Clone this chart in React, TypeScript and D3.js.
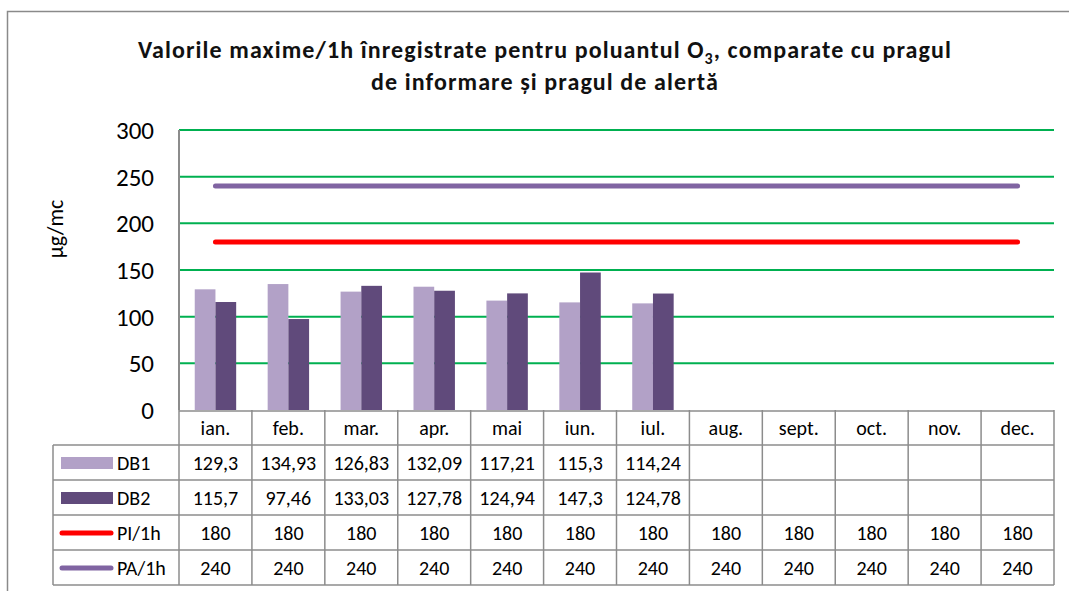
import React from 'react';
import * as d3 from 'd3';

const MONTHS = ['ian.', 'feb.', 'mar.', 'apr.', 'mai', 'iun.', 'iul.', 'aug.', 'sept.', 'oct.', 'nov.', 'dec.'];
const DB1 = [129.3, 134.93, 126.83, 132.09, 117.21, 115.3, 114.24, null, null, null, null, null];
const DB2 = [115.7, 97.46, 133.03, 127.78, 124.94, 147.3, 124.78, null, null, null, null, null];
const PI = [180, 180, 180, 180, 180, 180, 180, 180, 180, 180, 180, 180];
const PA = [240, 240, 240, 240, 240, 240, 240, 240, 240, 240, 240, 240];
const Y_TICKS = [0, 50, 100, 150, 200, 250, 300];

const FONT = 'Carlito, Lato, "Open Sans", sans-serif';
const GRID = '#00B050';
const BORDER = '#8c8c8c';

type Series = { name: string; values: (number | null)[]; kind: 'bar' | 'line'; color: string };

const SERIES: Series[] = [
  { name: 'DB1', values: DB1, kind: 'bar', color: '#B2A1C7' },
  { name: 'DB2', values: DB2, kind: 'bar', color: '#604A7B' },
  { name: 'PI/1h', values: PI, kind: 'line', color: '#FF0000' },
  { name: 'PA/1h', values: PA, kind: 'line', color: '#8064A2' },
];

const fmt = (v: number | null) => (v == null ? '' : String(v).replace('.', ','));

export default function App() {
  const width = 1069;
  const height = 591;
  const plot = { left: 179, right: 1054, top: 130, bottom: 410 };
  const rowH = 35;
  const legendLeft = 53;

  const x = d3.scaleBand<string>().domain(MONTHS).range([plot.left, plot.right]);
  const xInner = d3.scaleBand<string>()
    .domain(['DB1', 'DB2'])
    .range([0, x.bandwidth()])
    .paddingInner(0)
    .paddingOuter(0.76);
  const y = d3.scaleLinear().domain([0, 300]).range([plot.bottom, plot.top]);

  const line = d3.line<number>()
    .x((_, i) => (x(MONTHS[i]) as number) + x.bandwidth() / 2)
    .y(d => y(d));

  const tableBottom = plot.bottom + rowH * (SERIES.length + 1);

  return (
    <svg
      width={width}
      height={height}
      style={{ position: 'absolute', left: 0, top: 0, background: '#fff' }}
      fontFamily={FONT}
    >
      {/* outer frame */}
      <rect x={7.5} y={11.5} width={1100} height={700} fill="none" stroke="#8a8a8a" strokeWidth={1.5} />

      {/* title */}
      <g fontWeight="bold" fontSize={24} fill="#111" letterSpacing={1.1} textAnchor="middle">
        <text x={545} y={58}>
          Valorile maxime/1h înregistrate pentru poluantul O
          <tspan dy={6} fontSize={16}>3</tspan>
          <tspan dy={-6}>, comparate cu pragul</tspan>
        </text>
        <text x={545} y={90}>de informare și pragul de alertă</text>
      </g>

      {/* gridlines */}
      {Y_TICKS.filter(t => t > 0).map(t => (
        <line key={t} x1={plot.left} x2={plot.right} y1={y(t)} y2={y(t)} stroke={GRID} strokeWidth={2} />
      ))}

      {/* y tick labels */}
      {Y_TICKS.map(t => (
        <text key={t} x={154} y={y(t) + 9} textAnchor="end" fontSize={25} fill="#000">
          {t}
        </text>
      ))}

      {/* y axis title */}
      <text
        x={63}
        y={229}
        textAnchor="middle"
        fontSize={22}
        fill="#000"
        transform={`rotate(-90 63,229)`}
      >
        µg/mc
      </text>

      {/* bars */}
      {SERIES.filter(s => s.kind === 'bar').map(s => (
        <g key={s.name}>
          {s.values.map((v, i) =>
            v == null ? null : (
              <rect
                key={i}
                x={(x(MONTHS[i]) as number) + (xInner(s.name) as number)}
                y={y(v)}
                width={xInner.bandwidth()}
                height={y(0) - y(v)}
                fill={s.color}
              />
            )
          )}
        </g>
      ))}

      {/* threshold lines */}
      {SERIES.filter(s => s.kind === 'line').map(s => (
        <path
          key={s.name}
          d={line(s.values as number[]) ?? ''}
          fill="none"
          stroke={s.color}
          strokeWidth={5}
          strokeLinecap="round"
        />
      ))}

      {/* y axis */}
      <line x1={plot.left} x2={plot.left} y1={plot.top} y2={plot.bottom} stroke={BORDER} strokeWidth={2} />

      {/* data table */}
      <g fontSize={20} fill="#000">
        {/* header row */}
        {MONTHS.map(m => (
          <text key={m} x={(x(m) as number) + x.bandwidth() / 2} y={plot.bottom + 25} textAnchor="middle">
            {m}
          </text>
        ))}
        {SERIES.map((s, r) => {
          const top = plot.bottom + rowH * (r + 1);
          return (
            <g key={s.name}>
              {s.kind === 'bar' ? (
                <rect x={61} y={top + 12} width={52} height={12} fill={s.color} />
              ) : (
                <line
                  x1={62}
                  x2={111}
                  y1={top + 18}
                  y2={top + 18}
                  stroke={s.color}
                  strokeWidth={5}
                  strokeLinecap="round"
                />
              )}
              <text x={117} y={top + 25}>{s.name}</text>
              {s.values.map((v, i) => (
                <text key={i} x={(x(MONTHS[i]) as number) + x.bandwidth() / 2} y={top + 25} textAnchor="middle">
                  {fmt(v)}
                </text>
              ))}
            </g>
          );
        })}

        {/* table grid */}
        <g stroke={BORDER} strokeWidth={1.5}>
          <line x1={plot.left} x2={plot.right} y1={plot.bottom + 1} y2={plot.bottom + 1} />
          {SERIES.map((_, r) => (
            <line
              key={r}
              x1={legendLeft}
              x2={plot.right}
              y1={plot.bottom + rowH * (r + 1)}
              y2={plot.bottom + rowH * (r + 1)}
            />
          ))}
          <line x1={legendLeft} x2={plot.right} y1={tableBottom} y2={tableBottom} />
          <line x1={legendLeft} x2={legendLeft} y1={plot.bottom + rowH} y2={tableBottom} />
          {MONTHS.map(m => (
            <line key={m} x1={x(m) as number} x2={x(m) as number} y1={plot.bottom} y2={tableBottom} />
          ))}
          <line x1={plot.right} x2={plot.right} y1={plot.bottom} y2={tableBottom} />
        </g>
      </g>
    </svg>
  );
}
